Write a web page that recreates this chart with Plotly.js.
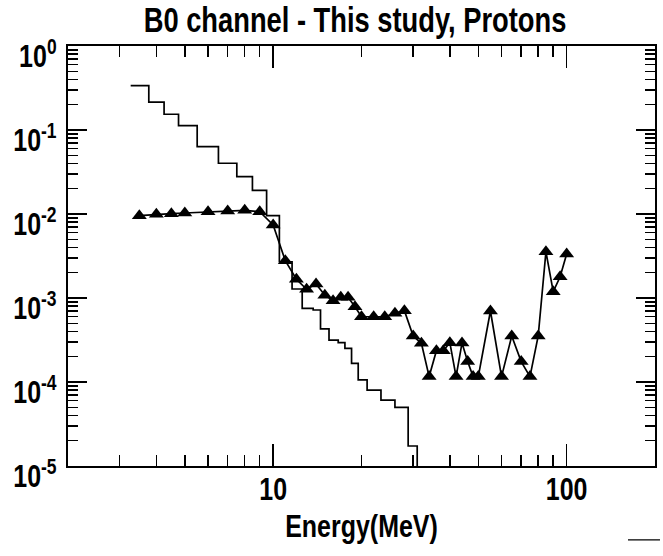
<!DOCTYPE html>
<html>
<head>
<meta charset="utf-8">
<script src="https://cdn.plot.ly/plotly-3.0.1.min.js"></script>
<style>
  html, body { margin: 0; padding: 0; background: #fff; }
  #chart { width: 663px; height: 556px; }
</style>
</head>
<body>
<div id="chart"></div>
<script>
// Histogram (step line): bin edges (MeV) and bin values
const histEdges = [3.27, 3.77, 4.25, 4.76, 5.51, 6.51, 7.52, 8.5, 9.5, 10.5, 11.6, 12.56, 13.69, 14.5, 15.5, 16.66, 17.56, 18.5, 19.49, 20.9, 23.3, 26.0, 28.84, 30.96, 33.07];
const histValues = [0.337, 0.215, 0.154, 0.1125, 0.0633, 0.0402, 0.0278, 0.0191, 0.00955, 0.0027, 0.00128, 0.000754, 0.00072, 0.000428, 0.000316, 0.000294, 0.000252, 0.000167, 0.000106, 8.0e-5, 6.1e-5, 5.0e-5, 1.73e-5, 5e-6];

// "This study" points (triangles)
const studyEnergy = [3.5, 4, 4.5, 5, 6, 7, 8, 9, 10, 11, 12, 13, 14, 15, 16, 17, 18, 19, 20, 22, 24, 26, 28, 30, 32, 34, 36, 38, 40, 42, 44, 46, 48, 50, 55, 60, 65, 70, 75, 80, 85, 90, 95, 100];
const studyValues = [0.00954, 0.00992, 0.01008, 0.01028, 0.01065, 0.01086, 0.01107, 0.01065, 0.0074, 0.00278, 0.00167, 0.00127, 0.00147, 0.00108, 0.00093, 0.00102, 0.00102, 0.000788, 0.000598, 0.000598, 0.000598, 0.000658, 0.000707, 0.000353, 0.000289, 0.000116, 0.000236, 0.000236, 0.000294, 0.000116, 0.000291, 0.000175, 0.000116, 0.000116, 0.0007, 0.000116, 0.000353, 0.000175, 0.000116, 0.000353, 0.00356, 0.00119, 0.00179, 0.00334];

// Axis ticks
const xTickVals = [10, 100];
const xTickText = ["10", "100"];
const yTickVals = [1, 0.1, 0.01, 0.001, 0.0001, 0.00001];
const yTickText = ["10<sup>0</sup>", "10<sup>-1</sup>", "10<sup>-2</sup>", "10<sup>-3</sup>", "10<sup>-4</sup>", "10<sup>-5</sup>"];

const FONT = "Liberation Sans, Arial, sans-serif";
const NARROW = 0.78; // horizontal condensing of all texts (narrow face look)

const histTrace = {
  x: histEdges,
  y: histValues.concat([histValues[histValues.length - 1]]),
  mode: "lines",
  line: { shape: "hv", color: "#000", width: 1.7 },
  hoverinfo: "skip",
  showlegend: false
};

const studyTrace = {
  x: studyEnergy,
  y: studyValues,
  mode: "lines+markers",
  line: { color: "#000", width: 1.7 },
  marker: { symbol: "triangle-up", size: 13, color: "#000" },
  showlegend: false
};

const layout = {
  width: 663,
  height: 556,
  margin: { l: 68, r: 8, t: 46, b: 90 },
  paper_bgcolor: "#fff",
  plot_bgcolor: "#fff",
  font: { family: FONT, color: "#000", weight: "bold" },
  title: {
    text: "B0 channel - This study, Protons",
    font: { family: FONT, size: 35, color: "#000", weight: "bold" },
    xref: "container", x: 0.5355, xanchor: "center",
    yref: "container", y: 0.964, yanchor: "middle"
  },
  xaxis: {
    type: "log",
    range: [Math.log10(2), Math.log10(200)],
    tickmode: "array",
    tickvals: xTickVals,
    ticktext: xTickText,
    ticks: "inside",
    ticklen: 22,
    tickwidth: 1.5,
    tickcolor: "#000",
    ticklabelstandoff: -6,
    tickfont: { family: FONT, size: 32, color: "#000", weight: "bold" },
    minor: { ticks: "inside", ticklen: 11, tickwidth: 1.5, tickcolor: "#000", dtick: "D1", showgrid: false },
    showline: true, linecolor: "#000", linewidth: 2, mirror: "ticks",
    showgrid: false, zeroline: false,
    title: { text: "Energy(MeV)", font: { family: FONT, size: 32, color: "#000", weight: "bold" }, standoff: 8 }
  },
  yaxis: {
    type: "log",
    range: [-5, 0],
    tickmode: "array",
    tickvals: yTickVals,
    ticktext: yTickText,
    ticks: "inside",
    ticklen: 19,
    tickwidth: 1.5,
    tickcolor: "#000",
    ticklabelstandoff: 3,
    ticklabelshift: 10,
    tickfont: { family: FONT, size: 32, color: "#000", weight: "bold" },
    minor: { ticks: "inside", ticklen: 10, tickwidth: 1.5, tickcolor: "#000", dtick: "D1", showgrid: false },
    showline: true, linecolor: "#000", linewidth: 2, mirror: "ticks",
    showgrid: false, zeroline: false
  },
  shapes: [
    { type: "line", xref: "paper", yref: "paper", x0: 0.954, x1: 1.0085, y0: -0.176, y1: -0.176,
      line: { color: "#000", width: 1.2 } }
  ]
};

function condenseTexts() {
  document.querySelectorAll("#chart svg text").forEach(function (t) {
    const len = t.getComputedTextLength();
    if (len > 0) {
      t.setAttribute("textLength", (len * NARROW).toFixed(2));
      t.setAttribute("lengthAdjust", "spacingAndGlyphs");
    }
  });
}

Plotly.newPlot("chart", [histTrace, studyTrace], layout, { staticPlot: true, displayModeBar: false })
  .then(condenseTexts);
</script>
</body>
</html>
